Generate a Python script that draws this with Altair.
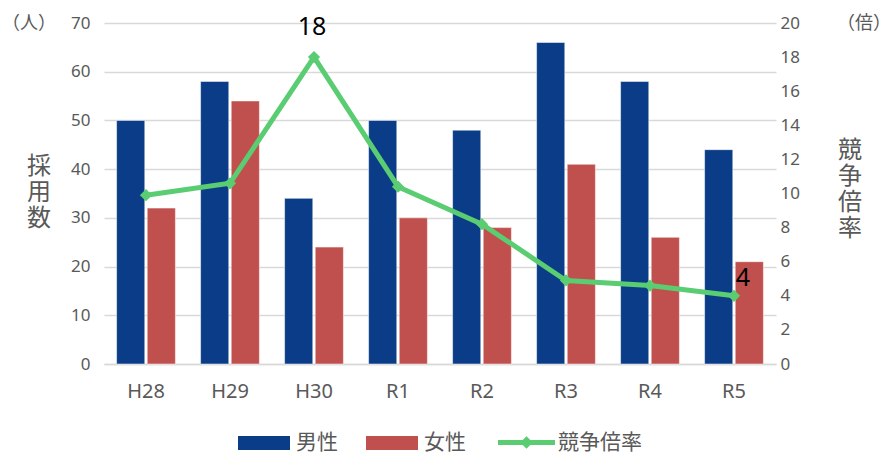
import altair as alt
import pandas as pd

years = ["H28", "H29", "H30", "R1", "R2", "R3", "R4", "R5"]
male = [50, 58, 34, 50, 48, 66, 58, 44]
female = [32, 54, 24, 30, 28, 41, 26, 21]
ratio = [9.9, 10.6, 18.0, 10.4, 8.2, 4.9, 4.6, 4.0]
ratio_labels = ["", "", "18", "", "", "", "", "4"]
sexes = ["男性", "女性"]
series_name = "競争倍率"

BLUE = "#0A3C87"
RED = "#C0504D"
GREEN = "#5ACD72"
GRAY = "#595959"
GRID = "#D9D9D9"
JP = "Noto Sans CJK JP"
NUM = "Noto Sans"

bars_df = pd.DataFrame({
    "year": years * 2,
    "sex": [sexes[0]] * len(years) + [sexes[1]] * len(years),
    "count": male + female,
})
line_df = pd.DataFrame({
    "year": years,
    "ratio": ratio,
    "label": ratio_labels,
    "series": [series_name] * len(years),
})

x_enc = alt.X(
    "year:N", sort=years,
    scale=alt.Scale(paddingInner=0.3, paddingOuter=0.15),
    axis=alt.Axis(title=None, labelAngle=0, labelFont=NUM, labelFontSize=20,
                  labelColor=GRAY, labelPadding=17, ticks=False,
                  domainColor=GRID, domainWidth=1.5, grid=False),
)

bars = alt.Chart(bars_df).mark_bar(stroke="white", strokeWidth=0.5).encode(
    x=x_enc,
    xOffset=alt.XOffset("sex:N", sort=sexes, scale=alt.Scale(paddingInner=0.08)),
    y=alt.Y("count:Q", scale=alt.Scale(domain=[0, 70]),
            axis=alt.Axis(title=None, values=list(range(0, 71, 10)), domain=False,
                          ticks=False, grid=True, gridColor=GRID, gridWidth=1.5,
                          labelFont=NUM, labelFontSize=17, labelColor=GRAY,
                          labelPadding=14)),
    color=alt.Color("sex:N", scale=alt.Scale(domain=sexes, range=[BLUE, RED]),
                    legend=alt.Legend(title=None, orient="none", legendX=134, legendY=394,
                                      direction="horizontal",
                                      symbolType="M-1,-0.27 L1,-0.27 L1,0.27 L-1,0.27 Z",
                                      symbolSize=2704, symbolStrokeWidth=0,
                                      labelFont=JP, labelFontSize=21, labelColor=GRAY,
                                      labelOffset=6, columnPadding=28)),
)

y_right = alt.Y("ratio:Q", scale=alt.Scale(domain=[0, 20]),
                axis=alt.Axis(title=None, orient="right", values=list(range(0, 21, 2)),
                              domain=False, ticks=False, grid=False,
                              labelFont=NUM, labelFontSize=17, labelColor=GRAY,
                              labelPadding=4))

line = alt.Chart(line_df).mark_line(color=GREEN, strokeWidth=5).encode(
    x=x_enc, y=y_right,
)
points = alt.Chart(line_df).mark_point(shape="diamond", filled=True, size=150, opacity=1).encode(
    x=x_enc, y=y_right,
    fill=alt.Fill("series:N", scale=alt.Scale(domain=[series_name], range=[GREEN]),
                  legend=alt.Legend(title=None, orient="none", legendX=394, legendY=391,
                                    symbolType="M-1,-0.09 L1,-0.09 L1,0.09 L-1,0.09 Z M0,-0.22 L0.22,0 L0,0.22 L-0.22,0 Z",
                                    symbolSize=3249, symbolStrokeWidth=0,
                                    labelFont=JP, labelFontSize=21, labelColor=GRAY,
                                    labelOffset=3)),
)
lab18 = alt.Chart(line_df).transform_filter(alt.datum.label == "18").mark_text(
    font=NUM, fontSize=25, color="black", dx=-2, dy=-30
).encode(x=x_enc, y=y_right, text="label:N")
lab4 = alt.Chart(line_df).transform_filter(alt.datum.label == "4").mark_text(
    font=NUM, fontSize=25, color="black", dx=9, dy=-18
).encode(x=x_enc, y=y_right, text="label:N")

right_layer = alt.layer(line, points, lab18, lab4)


def note(txt, px, py, size, lh):
    return alt.Chart(pd.DataFrame({"t": [txt]})).mark_text(
        font=JP, fontSize=size, color=GRAY, lineBreak="\n", lineHeight=lh
    ).encode(x=alt.value(px), y=alt.value(py), text="t:N")


notes = alt.layer(
    note("採\n用\n数", -65, 144, 24, 26),
    note("（人）", -75, 1, 18, 20),
    note("競\n争\n倍\n率", 746, 128, 24, 26),
    note("（倍）", 760, 1, 18, 20),
)

chart = alt.layer(bars, right_layer, notes).resolve_scale(
    y="independent", color="independent", fill="independent"
).properties(
    width=672, height=341,
    autosize=alt.AutoSizeParams(type="none"),
    padding={"left": 96, "top": 15, "right": 104, "bottom": 92},
).configure_view(stroke=None)

chart.save("out.html", embed_options={"renderer": "svg", "actions": False})
